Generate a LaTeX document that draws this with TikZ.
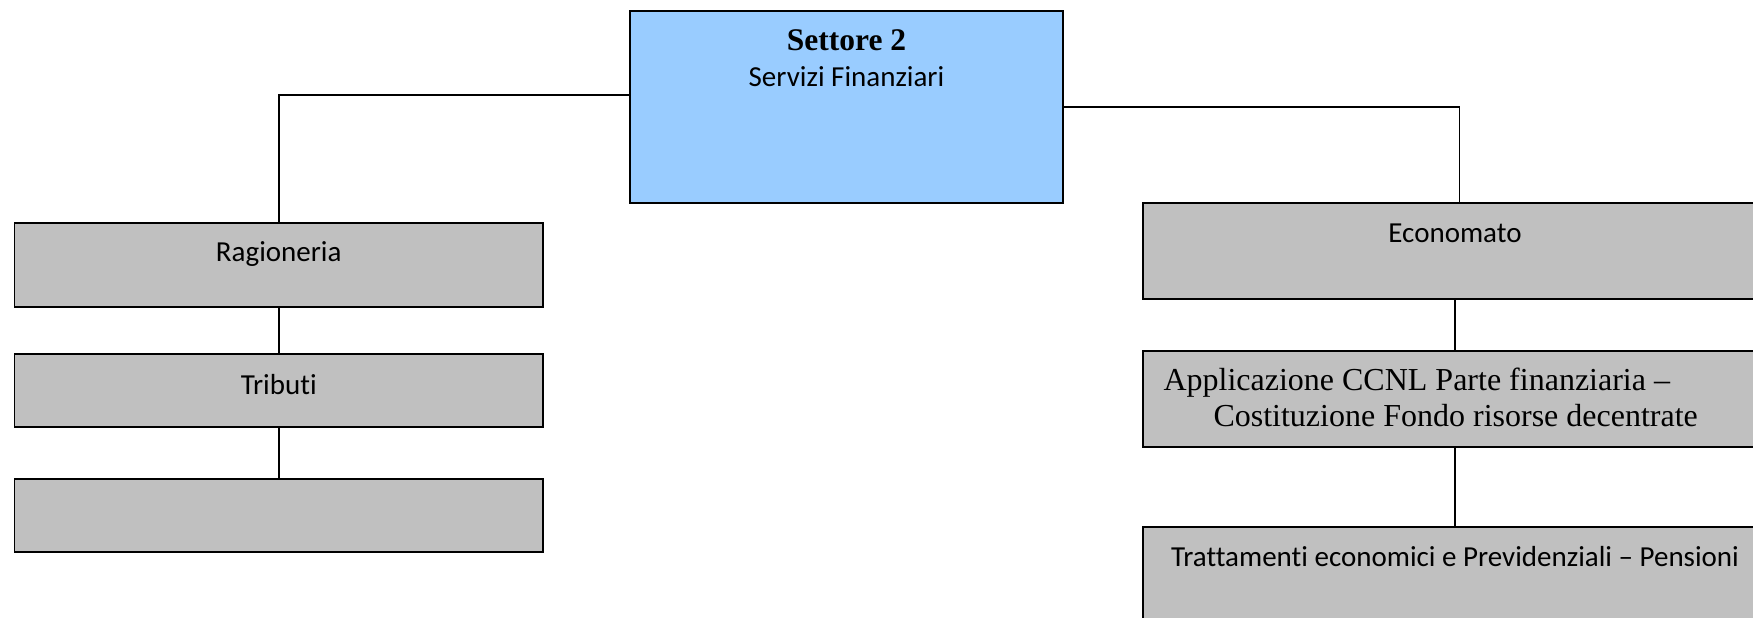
\documentclass[tikz,border=0pt]{standalone}
\usepackage{fontspec}
\setmainfont{Liberation Serif}
\newfontfamily\carl[Ligatures={NoCommon}]{Carlito}
\usetikzlibrary{calc}
\definecolor{boxblue}{HTML}{99CCFF}
\definecolor{boxgray}{HTML}{C0C0C0}
\tikzset{
  orgbox/.style={draw=black, line width=1.8pt, inner sep=0pt, outer sep=0pt, rectangle},
  bluebox/.style={orgbox, fill=boxblue},
  graybox/.style={orgbox, fill=boxgray},
  conn/.style={draw=black, line width=1.6pt},
  sanslabel/.style={inner sep=0pt, anchor=base, font=\carl\fontsize{29}{34}\selectfont},
  seriflabel/.style={inner sep=0pt, anchor=base west, font=\fontsize{32}{37}\selectfont},
}
\begin{document}
\begin{tikzpicture}[x=1pt, y=-1pt]
\useasboundingbox (0,0) rectangle (1753,618);
\clip (0,0) rectangle (1753,618);
% boxes
\node[bluebox, minimum width=433pt, minimum height=192.6pt] (settore) at (846.5,107) {};
\node[graybox, minimum width=528.5pt, minimum height=84pt] (rag) at (278.75,264.7) {};
\node[graybox, minimum width=528.5pt, minimum height=73pt] (trib) at (278.75,390.8) {};
\node[graybox, minimum width=528.5pt, minimum height=72.7pt] (empty) at (278.75,515.35) {};
\node[graybox, minimum width=624pt, minimum height=96pt] (econ) at (1455,251.3) {};
\node[graybox, minimum width=624pt, minimum height=96.3pt] (appl) at (1455,399.15) {};
\node[graybox, minimum width=624pt, minimum height=153pt] (tratt) at (1455,603.2) {};
% texts
\node[inner sep=0pt, anchor=base, font=\bfseries\fontsize{31.5}{36}\selectfont] (t1) at (846.5,50.7) {Settore 2};
\node[sanslabel] (t2) at (846.5,86.7) {Servizi Finanziari};
\node[sanslabel] (t3) at (278.75,261) {Ragioneria};
\node[sanslabel] (t4) at (278.75,394.3) {Tributi};
\node[sanslabel] (t5) at (1455,242.7) {Economato};
\node[seriflabel] (t6) at (1163.3,390.7) {Applicazione CCNL Parte finanziaria –};
\node[seriflabel] (t7) at (1213.3,426.7) {Costituzione Fondo risorse decentrate};
\node[sanslabel] (t8) at (1455,566) {Trattamenti economici e Previdenziali – Pensioni};
% connectors
\coordinate (lh) at ($(settore.west)+(0,-12)$);
\coordinate (rv) at ($(econ.north)+(4.3,0)$);
\draw[conn] (lh) -| (rag.north);
\draw[conn] (settore.east) -| (rv);
\draw[conn] (rag.south) -- (trib.north);
\draw[conn] (trib.south) -- (empty.north);
\draw[conn] (econ.south) -- (appl.north);
\draw[conn] (appl.south) -- (tratt.north);
\end{tikzpicture}
\end{document}
